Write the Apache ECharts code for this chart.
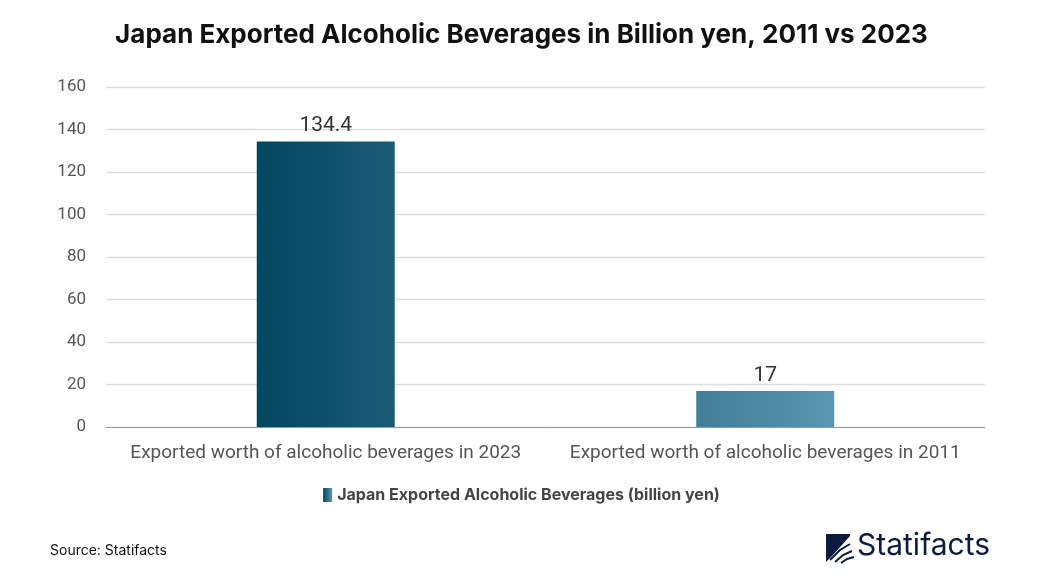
<!DOCTYPE html>
<html><head><meta charset="utf-8">
<script src="https://cdn.jsdelivr.net/npm/echarts@6/dist/echarts.min.js"></script>
<style>html,body{margin:0;padding:0;background:#fff}#c{width:1043px;height:588px}</style>
</head><body><div id="c"></div>
<script>
const categories = ["Exported worth of alcoholic beverages in 2023", "Exported worth of alcoholic beverages in 2011"];
const values = [134.4, 17];
const seriesName = "Japan Exported Alcoholic Beverages (billion yen)";
const grads = [["#03465f", "#1b5b76"], ["#437e98", "#5b96b0"]];
const grad = (a, b) => new echarts.graphic.LinearGradient(0, 0, 1, 0, [{offset: 0, color: a}, {offset: 1, color: b}]);
const chart = echarts.init(document.getElementById('c'));
chart.setOption({
  animation: false,
  title: {text: "Japan Exported Alcoholic Beverages in Billion yen, 2011 vs 2023", left: 'center', top: 17,
    textStyle: {fontFamily: 'Inter, Roboto, sans-serif', fontSize: 26, fontWeight: 'bold', color: '#111'}},
  grid: {left: 106, right: 58, top: 87, bottom: 161},
  legend: {bottom: 80, left: 'center', itemWidth: 9, itemHeight: 14, icon: 'rect',
    textStyle: {fontFamily: 'Inter, Roboto, sans-serif', fontSize: 16, fontWeight: 'bold', color: '#444'},
    data: [{name: seriesName, itemStyle: {color: grad(grads[0][0], grads[1][1])}}]},
  xAxis: {type: 'category', data: categories, axisTick: {show: false},
    axisLine: {lineStyle: {color: '#999'}},
    axisLabel: {interval: 0, fontFamily: 'Roboto, sans-serif', fontSize: 19, color: '#555', margin: 17}},
  yAxis: {type: 'value', min: 0, max: 160, interval: 20,
    axisLabel: {fontFamily: 'Roboto, sans-serif', fontSize: 17, color: '#555', margin: 20, align: 'right'},
    splitLine: {lineStyle: {color: '#ddd', width: 1.3}}},
  series: [{name: seriesName, type: 'bar', barWidth: 138,
    data: values.map((v, i) => ({value: v, itemStyle: {color: grad(grads[i][0], grads[i][1])}})),
    label: {show: true, position: 'top', fontFamily: 'Roboto, sans-serif', fontSize: 21, color: '#333', distance: 5}}],
  graphic: [
    {type: 'text', left: 50, top: 544, style: {text: 'Source: Statifacts', font: '14px Inter, Roboto, sans-serif', fill: '#111'}},
    {type: 'group', left: 826, top: 531, children: [
      {type: 'polygon', shape: {points: [[0,0],[24,0],[24,2],[6,22],[0,28]]}, style: {fill: '#0d1b3e'}},
      {type: 'polyline', shape: {points: [[4,26],[14,16],[24,10]]}, style: {stroke: '#0d1b3e', lineWidth: 2, fill: null}},
      {type: 'polyline', shape: {points: [[9,28],[17,21],[26,17]]}, style: {stroke: '#0d1b3e', lineWidth: 2, fill: null}},
      {type: 'polyline', shape: {points: [[15,29],[21,25],[28,23]]}, style: {stroke: '#0d1b3e', lineWidth: 2, fill: null}},
      {type: 'text', x: 31, y: -3, style: {text: 'Statifacts', font: '30px Inter, Roboto, sans-serif', fill: '#0d1b3e'}}
    ]}
  ]
});
</script></body></html>
